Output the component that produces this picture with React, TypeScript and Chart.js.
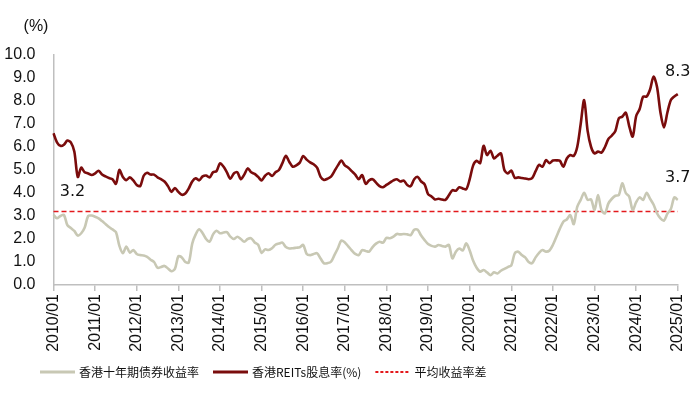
import React, { useEffect, useRef } from "react";
import { Chart, registerables } from "chart.js";

Chart.register(...registerables);

// ---- categories (monthly, 2010/01 .. 2025/01) ----
const START_YEAR = 2010;
const END_YEAR = 2025;
const months: string[] = [];
for (let yr = START_YEAR; yr <= END_YEAR; yr++) {
  for (let mo = 1; mo <= 12; mo++) {
    if (yr === END_YEAR && mo > 1) break;
    months.push(`${yr}/${String(mo).padStart(2, "0")}`);
  }
}

// ---- series: 香港十年期债券收益率 (%) ----
const bondYield = [
  3.05, 2.9, 3.0, 3.05, 2.6, 2.48, 2.35, 2.15, 2.25, 2.5, 3.0, 3.02,
  2.97, 2.9, 2.78, 2.65, 2.52, 2.42, 2.3, 1.7, 1.38, 1.67, 1.41, 1.52,
  1.35, 1.3, 1.28, 1.22, 1.1, 1.0, 0.75, 0.78, 0.83, 0.72, 0.6, 0.7,
  1.25, 1.2, 1.0, 0.98, 1.8, 2.2, 2.42, 2.25, 2.0, 1.88, 2.2, 2.36,
  2.25, 2.28, 2.3, 2.1, 2.0, 2.1, 2.0, 1.88, 2.0, 2.03, 1.85, 1.75,
  1.4, 1.55, 1.52, 1.6, 1.75, 1.8, 1.84, 1.65, 1.59, 1.6, 1.62, 1.64,
  1.74, 1.35, 1.3, 1.35, 1.38, 1.15, 0.94, 0.95, 1.01, 1.3, 1.6, 1.93,
  1.85, 1.68, 1.5, 1.35, 1.3, 1.52, 1.48, 1.45, 1.65, 1.8, 1.88, 1.84,
  2.05, 2.03, 2.1, 2.22, 2.2, 2.22, 2.2, 2.17, 2.4, 2.4, 2.15, 1.95,
  1.78, 1.7, 1.67, 1.74, 1.7, 1.67, 1.74, 1.16, 1.45, 1.59, 1.5, 1.81,
  1.5, 1.05, 0.75, 0.58, 0.65, 0.55, 0.43, 0.55, 0.5, 0.62, 0.7, 0.78,
  0.85, 1.38, 1.45, 1.3, 1.2, 1.0, 0.95, 1.2, 1.4, 1.52, 1.45, 1.5,
  1.75, 2.1, 2.45, 2.75, 2.85, 3.04, 2.65, 3.4, 3.7, 4.01, 3.7, 3.72,
  3.26, 3.91, 3.25, 3.12, 3.55, 3.75, 3.88, 3.91, 4.42, 4.0, 3.84, 3.26,
  3.6, 3.81, 3.7, 4.01, 3.75, 3.5, 3.12, 2.9, 2.8, 3.1, 3.3, 3.81,
  3.7,
];

// ---- series: 香港REITs股息率 (%) ----
const reitsYield = [
  6.6, 6.2, 6.05, 6.1, 6.28, 6.2, 5.8, 4.7, 5.1, 4.9, 4.85, 4.78,
  4.85, 4.97, 4.8, 4.72, 4.65, 4.6, 4.4, 5.0, 4.7, 4.56, 4.68, 4.55,
  4.35, 4.3, 4.75, 4.88, 4.8, 4.8, 4.68, 4.6, 4.5, 4.3, 4.05, 4.22,
  4.05, 3.92, 3.98, 4.2, 4.5, 4.64, 4.55, 4.72, 4.76, 4.68, 4.9, 4.95,
  5.29, 5.15, 4.9, 4.62, 4.85, 4.9, 4.6, 4.8, 5.07, 4.9, 4.83, 4.7,
  4.55, 4.75, 4.86, 4.74, 4.9, 5.0, 5.3, 5.62, 5.35, 5.14, 5.2, 5.32,
  5.61, 5.45, 5.33, 5.25, 5.1, 4.7, 4.57, 4.62, 4.71, 4.95, 5.2, 5.41,
  5.2, 5.1, 4.95, 4.8, 4.6, 4.78, 4.4, 4.55, 4.6, 4.45, 4.3, 4.25,
  4.35, 4.45, 4.55, 4.6, 4.5, 4.54, 4.35, 4.3, 4.6, 4.7, 4.5, 4.38,
  3.95, 3.85, 3.72, 3.75, 3.72, 3.7, 3.9, 4.12, 4.1, 4.25, 4.2, 4.16,
  4.6, 5.2, 5.4, 5.3, 6.05, 5.65, 5.84, 5.5, 5.62, 5.72, 5.0, 4.85,
  4.97, 4.66, 4.68, 4.65, 4.63, 4.6, 4.65, 4.95, 5.22, 5.14, 5.43, 5.3,
  5.41, 5.42, 5.4, 5.14, 5.5, 5.65, 5.61, 6.0, 7.0, 8.04, 6.7, 6.0,
  5.72, 5.8, 5.75, 6.0, 6.35, 6.5, 6.7, 7.25, 7.32, 7.49, 6.9, 6.45,
  7.35, 7.65, 8.19, 8.19, 8.5, 9.06, 8.62, 7.5, 6.85, 7.5, 8.04, 8.2,
  8.3,
];

// ---- reference line: 平均收益率差 ----
const avgSpread = 3.2;

// ---- axis ----
const Y_MIN = 0;
const Y_MAX = 10;
const Y_STEP = 1;

const seriesNames = ["香港十年期债券收益率", "香港REITs股息率(%)", "平均收益率差"];
const COLORS = { bond: "#c8c8b4", reits: "#7a0c0c", avg: "#e3191c", text: "#111111", axis: "#bfbfbf" };

const overlayPlugin = {
  id: "overlay",
  afterDatasetsDraw(chart: any) {
    const { ctx, scales } = chart;
    const x = scales.x;
    const y = scales.y;
    const last = months.length - 1;
    ctx.save();
    ctx.fillStyle = COLORS.text;
    ctx.textAlign = "center";
    ctx.textBaseline = "middle";
    ctx.font = '16px "DejaVu Sans"';
    const xl = x.getPixelForValue(last);
    ctx.fillText(reitsYield[last].toFixed(1), xl, y.getPixelForValue(reitsYield[last]) - 22);
    ctx.fillText(bondYield[last].toFixed(1), xl, y.getPixelForValue(bondYield[last]) - 22);
    ctx.fillText(avgSpread.toFixed(1), x.left + 19, y.getPixelForValue(avgSpread) - 20);
    ctx.font = '16px "Liberation Sans", Arial';
    ctx.fillText("(%)", 36, 27);

    // legend
    const ly = 372;
    let lx = 40;
    const lineW = 35;
    ctx.font = '12px "Noto Sans CJK SC", "Liberation Sans"';
    ctx.textAlign = "left";
    const styles = [
      { color: COLORS.bond, width: 3, dash: [] as number[] },
      { color: COLORS.reits, width: 3, dash: [] as number[] },
      { color: COLORS.avg, width: 1.8, dash: [3, 2] },
    ];
    seriesNames.forEach((name, i) => {
      const s = styles[i];
      ctx.beginPath();
      ctx.strokeStyle = s.color;
      ctx.lineWidth = s.width;
      ctx.setLineDash(s.dash);
      ctx.moveTo(lx, ly);
      ctx.lineTo(lx + lineW, ly);
      ctx.stroke();
      ctx.setLineDash([]);
      ctx.fillStyle = COLORS.text;
      ctx.fillText(name, lx + lineW + 4, ly);
      lx += lineW + 4 + ctx.measureText(name).width + 14;
    });
    ctx.restore();
  },
};

export default function App() {
  const ref = useRef<HTMLCanvasElement | null>(null);
  useEffect(() => {
    if (!ref.current) return;
    Chart.defaults.font.family = '"Liberation Sans", Arial, sans-serif';
    const chart = new Chart(ref.current, {
      type: "line",
      data: {
        labels: months,
        datasets: [
          {
            label: seriesNames[0],
            data: bondYield,
            borderColor: COLORS.bond,
            borderWidth: 2.6,
            pointRadius: 0,
            tension: 0.3,
          },
          {
            label: seriesNames[1],
            data: reitsYield,
            borderColor: COLORS.reits,
            borderWidth: 2.6,
            pointRadius: 0,
            tension: 0.3,
          },
          {
            label: seriesNames[2],
            data: months.map(() => avgSpread),
            borderColor: COLORS.avg,
            borderWidth: 1.5,
            borderDash: [5, 3],
            pointRadius: 0,
          },
        ],
      },
      options: {
        responsive: false,
        animation: false,
        devicePixelRatio: 1,
        layout: { padding: { top: 55, right: 21.5, left: 0, bottom: 0 } },
        plugins: { legend: { display: false }, tooltip: { enabled: false } },
        scales: {
          x: {
            type: "category",
            offset: false,
            border: { display: true, color: COLORS.axis, width: 1.5 },
            grid: {
              display: true,
              drawOnChartArea: false,
              drawTicks: true,
              tickLength: 6,
              color: COLORS.axis,
              lineWidth: 1.5,
            },
            ticks: {
              autoSkip: false,
              minRotation: 90,
              maxRotation: 90,
              padding: 3,
              color: COLORS.text,
              font: { size: 16 },
              callback: (_v: any, idx: number) => (months[idx].endsWith("/01") ? months[idx] : null),
            },
            afterFit: (scale: any) => {
              scale.height = 112;
            },
          },
          y: {
            min: Y_MIN,
            max: Y_MAX,
            border: { display: true, color: COLORS.axis, width: 1.5 },
            grid: { display: false, drawTicks: false },
            ticks: {
              stepSize: Y_STEP,
              padding: 18,
              color: COLORS.text,
              font: { size: 16 },
              callback: (v: any) => Number(v).toFixed(1),
            },
            afterFit: (scale: any) => {
              scale.width = 53.5;
            },
          },
        },
      },
      plugins: [overlayPlugin],
    });
    return () => chart.destroy();
  }, []);
  return (
    <div style={{ position: "absolute", left: 0, top: 0, width: 700, height: 397, background: "#fff" }}>
      <canvas ref={ref} width={700} height={397} />
    </div>
  );
}
